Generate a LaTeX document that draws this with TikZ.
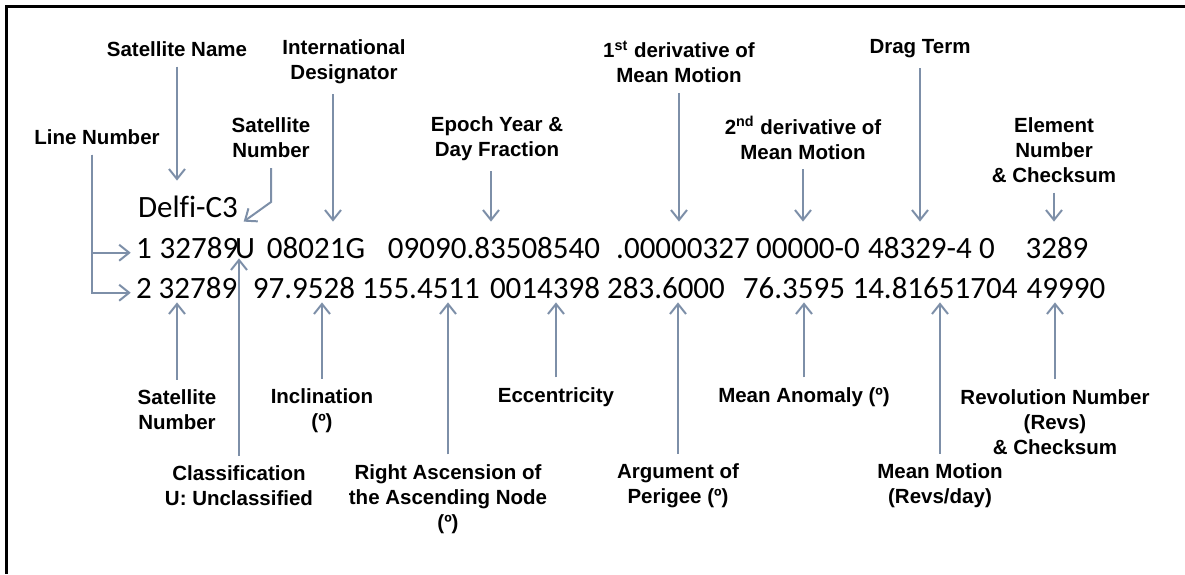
\documentclass[tikz,border=0pt]{standalone}
\usepackage{fontspec}
\setmainfont{Liberation Sans}
\newfontfamily\tlefont[Ligatures=CommonOff]{Carlito}
\usetikzlibrary{arrows.meta, positioning}
\definecolor{pilgray}{RGB}{125,143,168}

\begin{document}
\begin{tikzpicture}[
x=0.5pt, y=-0.5pt,
   lbl/.style = {font=\fontsize{10.25}{12.5}\selectfont\bfseries, align=center, inner sep=0pt, outer sep=5pt},
   fld/.style = {font=\tlefont\fontsize{15.5}{18}\selectfont, anchor=base, inner xsep=2.5pt, inner ysep=0pt},
  row1/.style = {fld, text height=18pt, text depth=0pt},
  row2/.style = {fld, text height=11pt, text depth=2pt},
   pil/.style = {draw=pilgray, line width=1pt, -{Straight Barb[length=5pt,width=8pt]}}
                    ]
\useasboundingbox (0,0) rectangle (1185,574);
% frame (cut off at right and bottom)
\fill (4.5,4.5) rectangle (1185,7.5);
\fill (4.5,4.5) rectangle (7.5,574);

%nodes
\node[row1] (delfi) at (188,217) {Delfi-C3};
\node[row1] (ln1)   at (144,258) {1};
\node[row1] (sn1)   at (199,258) {32789};
\node[row1] (cls)   at (245,258) {U};
\node[row1] (intd)  at (316,258) {08021G};
\node[row1] (epo)   at (494,258) {09090.83508540};
\node[row1] (nd1)   at (683,258) {.00000327};
\node[row1] (nd2)   at (808,258) {00000-0};
\node[row1] (bst)   at (920,258) {48329-4};
\node[row1] (eph)   at (987,258) {0};
\node[row1] (els)   at (1057,258) {3289};

\node[row2] (ln2)   at (144,298) {2};
\node[row2] (sn2)   at (198,298) {32789};
\node[row2] (inc)   at (304,298) {97.9528};
\node[row2] (ra)    at (421,298) {155.4511};
\node[row2] (ec)    at (545,298) {0014398};
\node[row2] (ap)    at (666,298) {283.6000};
\node[row2] (ma)    at (794,298) {76.3595};
\node[row2] (mm)    at (935,298) {14.81651704};
\node[row2] (rv)    at (1066,298) {49990};

% labels above
\node[lbl] (satname) at (177,49)  {Satellite Name};
\node[lbl] (intdes)  at (344,62)  {International\\Designator};
\node[lbl] (lineno)  at (97,137)  {Line Number};
\node[lbl] (satno1)  at (271,138) {Satellite\\Number};
\node[lbl] (epoch)   at (497,139) {Epoch Year \&\\Day Fraction};
\node[lbl] (ndot)    at (679,62)  {1\textsuperscript{st} derivative of\\Mean Motion};
\node[lbl] (nddot)   at (803,138) {2\textsuperscript{nd} derivative of\\Mean Motion};
\node[lbl] (drag)    at (920,49)  {Drag Term};
\node[lbl] (elset)   at (1054,150) {Element\\Number\\\& Checksum};

% labels below
\node[lbl] (satno2)  at (177,410) {Satellite\\Number};
\node[lbl] (incl)    at (322,411) {Inclination\\(º)};
\node[lbl] (class)   at (239,486) {Classification\\U: Unclassified};
\node[lbl] (raan)    at (448,499) {Right Ascension of\\the Ascending Node\\(º)};
\node[lbl] (ecc)     at (556,397) {Eccentricity};
\node[lbl] (argp)    at (678,486) {Argument of\\Perigee (º)};
\node[lbl] (manom)   at (804,397) {Mean Anomaly (º)};
\node[lbl] (mmot)    at (940,486) {Mean Motion\\(Revs/day)};
\node[lbl] (revno)   at (1055,422) {Revolution Number\\(Revs)\\\& Checksum};

% arrow starts off the label centre
\coordinate (intdes-s) at ([xshift=-5.5pt]intdes.south);
\coordinate (epoch-s)  at ([xshift=-3pt]epoch.south);
\coordinate (lineno-s) at ([xshift=-2.5pt]lineno.south);

% edges
\draw (satname) edge[pil] (satname |- delfi.north)
(intdes-s) edge[pil] (intdes-s |- intd.north)
(epoch-s) edge[pil] (epoch-s |- epo.north)
(ndot) edge[pil] (ndot |- nd1.north)
(nddot) edge[pil] (nddot |- nd2.north)
(drag) edge[pil] (drag |- bst.north)
(elset) edge[pil] (elset |- els.north);

\draw[pil] (lineno-s) |- (ln1.mid west);
\draw[pil] (lineno-s) |- (ln2.mid west);
\draw[pil] (satno1.south) -- ++(0,34) -- (sn1.north east);

\draw (satno2) edge[pil] (satno2 |- sn2.south)
(class) edge[pil] (class |- cls.south)
(incl) edge[pil] (incl |- inc.south)
(raan) edge[pil] (raan |- ra.south)
(ecc) edge[pil] (ecc |- ec.south)
(argp) edge[pil] (argp |- ap.south)
(manom) edge[pil] (manom |- ma.south)
(mmot) edge[pil] (mmot |- mm.south)
(revno) edge[pil] (revno |- rv.south);
    \end{tikzpicture}
\end{document}
